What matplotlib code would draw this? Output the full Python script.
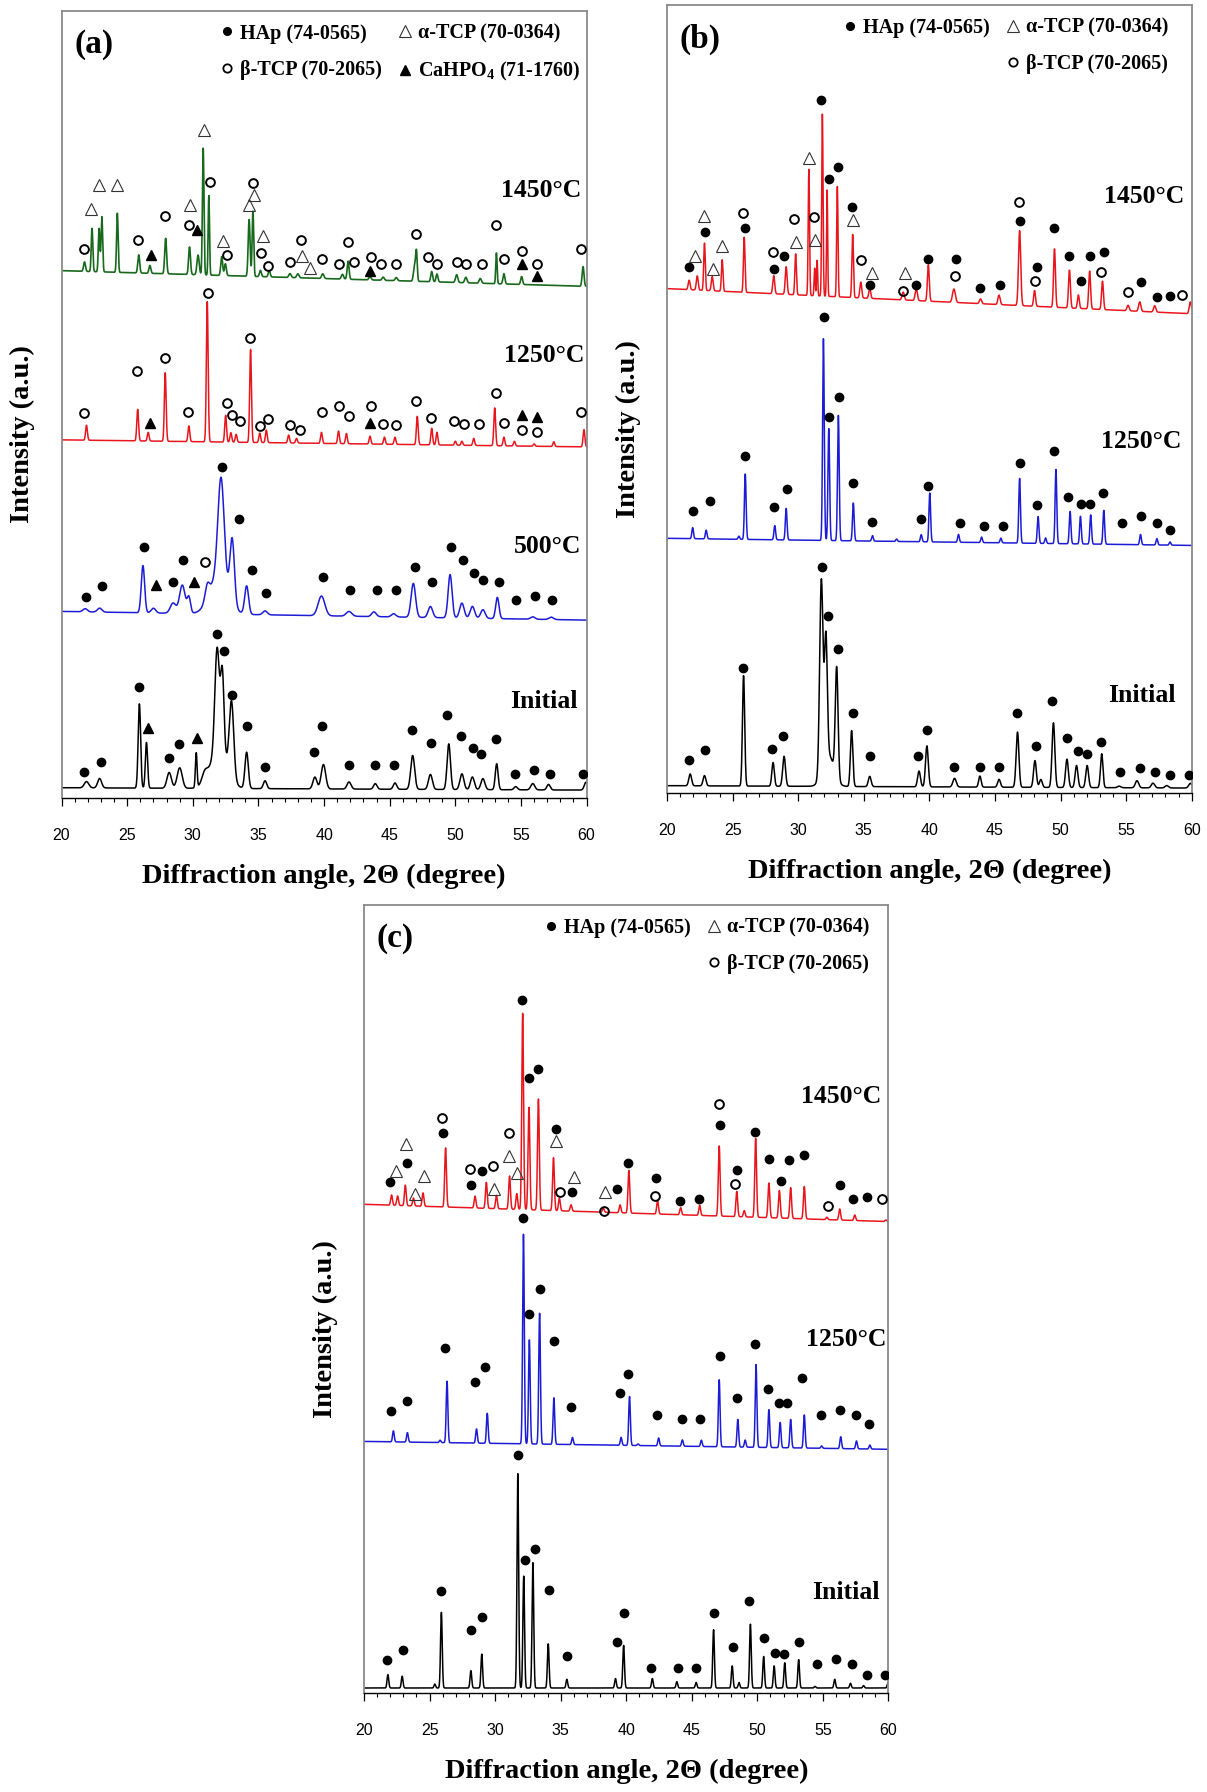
import numpy as np
import matplotlib.pyplot as plt
from matplotlib.lines import Line2D

plt.rcParams['font.family'] = ['Liberation Serif', 'DejaVu Serif']
plt.rcParams['mathtext.fontset'] = 'custom'
plt.rcParams['mathtext.rm'] = 'Liberation Serif:bold'
plt.rcParams['mathtext.bf'] = 'Liberation Serif:bold'

two_theta = np.arange(20.0, 60.0001, 0.01)

# ---------------- (a) ----------------
# each pattern: baseline at 20 and 60 deg, then peak position / height / FWHM
a_init_base = [1.3, 1.0]
a_init_pos = [21.9, 22.9, 25.93, 26.47, 28.2, 29.0, 30.26, 30.9, 31.85, 32.0, 32.25, 32.95, 34.1, 35.5, 39.3,
              39.95, 41.9, 43.9, 45.4, 46.75, 48.1, 49.5, 50.5, 51.3, 52.1, 53.15, 54.6, 55.9, 57.1, 59.95]
a_init_hgt = [0.8, 1.2, 10.7, 5.8, 2.0, 2.6, 4.4, 1.2, 13.0, 5.0, 10.0, 9.5, 4.6, 1.0, 1.5,
              3.1, 0.9, 0.7, 0.8, 4.3, 1.9, 5.8, 2.0, 1.6, 1.4, 3.3, 0.4, 0.8, 0.7, 1.0]
a_init_fwhm = [0.4, 0.35, 0.22, 0.2, 0.4, 0.45, 0.15, 0.5, 0.4, 1.5, 0.3, 0.4, 0.3, 0.3, 0.35,
               0.4, 0.35, 0.3, 0.3, 0.35, 0.35, 0.3, 0.35, 0.35, 0.35, 0.25, 0.3, 0.35, 0.3, 0.3]

a_500_base = [23.7, 22.6]
a_500_pos = [21.8, 22.9, 26.2, 27.0, 28.5, 29.2, 29.7, 31.1, 32.0, 32.15, 33.0, 34.1, 35.5, 39.8, 41.9,
             43.8, 45.3, 46.8, 48.1, 49.6, 50.5, 51.3, 52.1, 53.2, 55.9, 57.3]
a_500_hgt = [0.4, 0.5, 6.0, 0.6, 1.3, 3.6, 2.0, 1.8, 5.0, 12.5, 8.0, 3.6, 0.5, 2.5, 0.6,
             0.6, 0.4, 4.3, 1.4, 5.5, 1.9, 1.5, 1.1, 2.7, 0.3, 0.3]
a_500_fwhm = [0.4, 0.4, 0.3, 0.4, 0.5, 0.5, 0.3, 0.4, 1.6, 0.55, 0.4, 0.35, 0.4, 0.6, 0.5,
              0.4, 0.4, 0.4, 0.4, 0.35, 0.4, 0.4, 0.4, 0.3, 0.4, 0.4]

a_1250_base = [45.5, 44.6]
a_1250_pos = [21.9, 25.8, 26.6, 27.9, 29.7, 31.1, 32.5, 32.9, 33.3, 34.4, 35.1, 35.6, 37.3, 37.9, 39.8, 41.1,
              41.7, 43.5, 44.6, 45.4, 47.1, 48.2, 48.6, 50.0, 50.5, 51.4, 53.0, 53.7, 54.5, 56.0, 57.5, 59.8]
a_1250_hgt = [1.9, 4.0, 1.1, 8.7, 2.0, 17.8, 3.4, 1.2, 1.0, 11.8, 1.2, 1.6, 1.0, 0.6, 1.4, 1.6,
              1.3, 1.0, 0.9, 0.9, 3.6, 2.1, 1.6, 0.5, 0.5, 0.9, 4.8, 1.1, 0.6, 0.3, 0.6, 2.2]
a_1250_fwhm = 0.16

a_1450_base = [67.0, 65.0]
a_1450_pos = [21.75, 22.32, 22.86, 23.07, 24.25, 25.88, 26.73, 27.93, 29.75, 30.4, 30.79, 31.22, 32.2,
              32.48, 34.29, 34.58, 35.15, 35.82, 37.4, 38.0, 39.9, 41.4, 41.83, 43.5, 44.5, 45.5, 46.9,
              47.04, 48.2, 48.6, 50.1, 50.8, 51.9, 53.13, 53.7, 55.05, 59.73]
a_1450_hgt = [1.2, 5.5, 5.5, 7.0, 7.5, 2.3, 1.0, 4.5, 3.5, 2.5, 16.1, 10.1, 2.4,
              1.5, 7.2, 8.3, 0.8, 0.8, 0.5, 0.5, 0.6, 0.6, 2.3, 0.4, 0.4, 0.4, 2.0,
              3.5, 1.3, 1.0, 1.0, 0.7, 0.6, 3.9, 1.3, 1.0, 2.5]
a_1450_fwhm = [0.17, 0.14, 0.14, 0.14, 0.14, 0.17, 0.17, 0.17, 0.17, 0.2, 0.14, 0.12, 0.17,
               0.17, 0.17, 0.14, 0.17, 0.17, 0.2, 0.2, 0.2, 0.2, 0.17, 0.2, 0.2, 0.2, 0.2,
               0.14, 0.17, 0.17, 0.2, 0.2, 0.2, 0.12, 0.17, 0.17, 0.17]

a_hap_x = [21.71, 22.99, 25.93, 31.86, 32.40, 33.01, 34.16, 35.50, 28.15, 28.95, 39.21, 39.82, 41.88,
           43.91, 45.33, 46.69, 48.11, 49.33, 50.43, 51.31, 51.98, 53.10, 54.57, 55.99, 57.19, 59.73,
           21.84, 23.05, 26.28, 28.50, 29.27, 32.24, 33.49, 34.48, 35.60, 39.90, 42.01, 44.04, 45.49,
           46.90, 48.24, 49.66, 50.59, 51.45, 52.14, 53.34, 54.65, 56.09, 57.38]
a_hap_y = [3.3, 4.6, 14.1, 20.8, 18.7, 13.1, 9.1, 3.9, 5.1, 6.8, 5.8, 9.2, 4.2,
           4.2, 4.2, 8.7, 7.0, 10.6, 7.9, 6.4, 5.6, 7.5, 3.0, 3.5, 3.0, 3.0,
           25.5, 26.9, 31.9, 27.5, 30.3, 42.1, 35.4, 29.0, 26.1, 28.1, 26.4, 26.4, 26.4,
           29.4, 27.4, 31.9, 30.2, 28.6, 27.7, 27.4, 25.2, 25.7, 25.2]
a_alpha_x = [22.24, 22.89, 24.22, 29.78, 30.87, 32.29, 34.27, 34.67, 35.31, 38.30, 38.94]
a_alpha_y = [74.8, 77.9, 77.9, 75.3, 84.9, 70.8, 75.3, 76.6, 71.4, 68.9, 67.4]
a_beta_x = [21.74, 25.85, 27.88, 29.72, 31.30, 32.64, 34.61, 35.17, 35.74, 37.42, 38.25, 39.82, 41.16,
            41.83, 42.28, 43.59, 44.37, 45.49, 47.04, 47.92, 48.59, 50.14, 50.80, 52.03, 53.13, 53.69,
            55.05, 56.25, 59.59,
            21.71, 25.74, 27.85, 29.67, 31.19, 32.61, 33.01, 33.60, 34.37, 35.15, 35.74, 37.42, 38.14,
            39.82, 41.16, 41.91, 43.59, 44.50, 45.49, 47.04, 48.16, 49.92, 50.64, 51.82, 53.10, 53.69,
            55.05, 56.25, 59.59,
            30.95]
a_beta_y = [69.7, 70.9, 74.0, 72.8, 78.3, 69.0, 78.1, 69.2, 67.6, 68.1, 70.9, 68.5, 67.8,
            70.6, 68.1, 68.7, 67.9, 67.9, 71.6, 68.7, 67.8, 68.1, 67.8, 67.8, 72.8, 68.5,
            69.5, 67.9, 69.7,
            48.9, 54.3, 55.9, 49.0, 64.1, 50.2, 48.7, 47.9, 58.5, 47.3, 48.2, 47.4, 46.8,
            49.1, 49.8, 48.5, 49.8, 47.5, 47.4, 50.5, 48.3, 47.9, 47.5, 47.5, 51.4, 47.7,
            46.8, 46.5, 49.0,
            30.0]
a_caph_x = [26.55, 30.34, 27.19, 30.10, 26.73, 43.51, 55.05, 56.25, 26.79, 30.34, 43.48, 55.05, 56.25]
a_caph_y = [8.9, 7.6, 27.1, 27.5, 47.6, 47.6, 48.7, 48.4, 69.0, 72.2, 66.9, 67.9, 66.3]

# ---------------- (b) ----------------
b_init_base = [0.9, 0.6]
b_init_pos = [21.76, 22.85, 25.83, 28.08, 28.92, 31.76, 32.11, 32.3, 32.93, 34.07, 35.45, 39.21, 39.81, 41.92,
              43.85, 45.31, 46.72, 48.05, 48.5, 49.46, 50.49, 51.22, 52.03, 53.14, 54.47, 55.83, 57.05,
              58.1, 59.9]
b_init_hgt = [1.5, 1.3, 14.0, 3.0, 3.8, 24.5, 15.5, 4.0, 13.9, 7.1, 1.3, 2.0, 5.2, 1.1,
              1.4, 1.0, 7.0, 3.4, 1.0, 8.2, 3.6, 2.8, 2.8, 4.3, 0.2, 0.9, 0.6,
              0.3, 0.6]
b_init_fwhm = [0.25, 0.25, 0.2, 0.22, 0.25, 0.3, 0.25, 1.0, 0.25, 0.22, 0.25, 0.25, 0.25, 0.3,
               0.22, 0.25, 0.25, 0.25, 0.25, 0.25, 0.25, 0.25, 0.25, 0.22, 0.3, 0.3, 0.3,
               0.3, 0.3]

b_1250_base = [32.3, 31.4]
b_1250_pos = [21.95, 22.98, 25.47, 25.96, 28.21, 29.08, 31.92, 32.33, 33.06, 34.2, 35.66, 37.5, 39.38, 40.03,
              42.22, 43.98, 45.45, 46.88, 48.29, 48.86, 49.65, 50.73, 51.52, 52.3, 53.3, 56.1, 57.35, 58.35]
b_1250_hgt = [1.4, 1.1, 0.4, 8.3, 1.8, 4.0, 25.6, 14.2, 15.9, 4.8, 0.7, 0.3, 0.9, 6.2,
              1.0, 0.7, 0.6, 8.2, 3.4, 0.7, 9.4, 4.1, 3.5, 3.7, 4.3, 1.3, 0.8, 0.4]
b_1250_fwhm = 0.15

b_1450_base = [64.0, 60.8]
b_1450_pos = [21.68, 22.3, 22.85, 23.44, 24.2, 25.88, 28.13, 29.08, 29.8, 30.81, 31.25, 31.44, 31.84, 32.2,
              32.98, 34.15, 34.77, 35.45, 38.0, 39.0, 39.92, 41.87, 43.9, 45.31, 46.88, 48.02, 49.54,
              50.68, 51.36, 52.22, 53.2, 55.15, 56.04, 57.18, 59.9]
b_1450_hgt = [1.2, 1.8, 6.0, 1.8, 4.0, 7.0, 2.3, 3.5, 5.2, 16.0, 3.5, 4.5, 23.1, 13.5,
              14.0, 8.0, 2.0, 1.3, 1.0, 1.5, 4.6, 1.7, 0.6, 1.2, 9.5, 2.0, 7.4,
              4.8, 1.7, 4.8, 3.6, 0.7, 1.2, 0.8, 1.5]
b_1450_fwhm = [0.17, 0.17, 0.14, 0.17, 0.14, 0.14, 0.17, 0.17, 0.14, 0.12, 0.1, 0.1, 0.12, 0.1,
               0.12, 0.14, 0.17, 0.17, 0.2, 0.2, 0.17, 0.25, 0.2, 0.2, 0.2, 0.17, 0.17,
               0.17, 0.17, 0.17, 0.17, 0.2, 0.2, 0.2, 0.2]

b_hap_x = [21.68, 22.90, 25.80, 27.99, 28.81, 31.79, 32.25, 33.01, 34.15, 35.50, 39.13, 39.81, 41.87, 43.85,
           45.34, 46.67, 48.13, 49.35, 50.46, 51.36, 52.03, 53.12, 54.55, 56.04, 57.21, 58.32, 59.81,
           22.01, 23.25, 25.91, 28.13, 29.11, 32.00, 32.33, 33.14, 34.20, 35.66, 39.35, 39.92, 42.36,
           44.20, 45.61, 46.91, 48.24, 49.54, 50.54, 51.54, 52.22, 53.25, 54.66, 56.10, 57.34, 58.32,
           21.68, 22.87, 25.91, 28.13, 28.89, 31.76, 32.33, 33.01, 34.12, 35.50, 38.97, 39.92, 42.01,
           43.88, 45.37, 46.88, 48.24, 49.54, 50.68, 51.57, 52.22, 53.33, 56.10, 57.32, 58.32]
b_hap_y = [4.1, 5.4, 15.8, 5.5, 7.2, 28.6, 22.4, 18.2, 10.1, 4.7, 4.7, 8.0, 3.3, 3.3,
           3.3, 10.1, 5.9, 11.6, 6.9, 5.3, 4.9, 6.4, 2.6, 3.2, 2.6, 2.2, 2.2,
           35.8, 37.1, 42.7, 36.3, 38.6, 60.4, 47.7, 50.2, 39.3, 34.4, 34.7, 39.0, 34.3,
           33.9, 33.9, 41.9, 36.5, 43.4, 37.6, 36.7, 36.7, 38.1, 34.3, 35.1, 34.3, 33.3,
           66.7, 71.2, 71.7, 66.5, 68.2, 88.0, 77.9, 79.4, 74.3, 64.5, 64.5, 67.8, 67.8,
           64.1, 64.5, 72.6, 66.7, 71.7, 68.2, 65.0, 68.1, 68.6, 64.9, 62.9, 63.0]
b_alpha_x = [22.14, 22.85, 23.50, 24.17, 29.81, 30.81, 31.25, 34.15, 35.61, 38.16]
b_alpha_y = [68.1, 73.2, 66.5, 69.4, 69.9, 80.6, 70.2, 72.7, 66.0, 66.0]
b_beta_x = [25.80, 28.05, 29.70, 31.22, 34.82, 38.02, 41.95, 46.80, 48.02, 53.12, 55.15, 59.24]
b_beta_y = [73.6, 68.6, 72.8, 73.1, 67.6, 63.7, 65.6, 75.0, 65.0, 66.1, 63.6, 63.2]

# ---------------- (c) ----------------
c_init_base = [0.6, 0.6]
c_init_pos = [21.82, 22.91, 25.4, 25.90, 28.15, 28.98, 31.73, 32.18, 32.88, 34.05, 35.47, 39.18, 39.80, 41.99,
              43.86, 45.33, 46.66, 48.08, 48.6, 49.47, 50.48, 51.28, 52.09, 53.15, 54.4, 55.9, 57.1,
              58.1, 59.97]
c_init_hgt = [1.7, 1.5, 0.5, 9.6, 2.2, 4.3, 27.2, 14.2, 15.9, 5.6, 1.1, 1.2, 5.4, 1.2,
              0.8, 0.7, 7.4, 2.8, 0.7, 8.1, 4.0, 2.8, 3.2, 3.6, 0.2, 1.1, 0.6,
              0.3, 0.7]
c_init_fwhm = 0.15

c_1250_base = [31.9, 30.9]
c_1250_pos = [22.24, 23.31, 25.8, 26.33, 28.58, 29.40, 32.16, 32.61, 33.39, 34.48, 35.9, 39.61, 40.25, 40.9,
              42.47, 44.28, 45.73, 47.09, 48.51, 49.07, 49.9, 50.88, 51.74, 52.54, 53.58, 54.9, 56.36,
              57.56, 58.58]
c_1250_hgt = [1.4, 1.2, 0.3, 7.8, 1.8, 3.8, 26.6, 13.2, 16.6, 5.9, 0.9, 1.0, 6.2, 0.2,
              1.0, 0.8, 0.8, 8.5, 3.5, 0.9, 10.5, 4.8, 3.2, 3.6, 4.2, 0.3, 1.5,
              1.0, 0.5]
c_1250_fwhm = 0.15

c_1450_base = [62.0, 59.8]
c_1450_pos = [22.1, 22.56, 23.15, 23.77, 24.5, 26.22, 28.47, 29.33, 30.1, 31.1, 31.65, 32.1, 32.58, 33.3,
              34.45, 34.9, 35.79, 38.25, 39.53, 40.20, 42.39, 44.15, 45.6, 47.09, 48.43, 49.0, 49.87,
              50.88, 51.68, 52.54, 53.58, 55.3, 56.28, 57.43, 59.8]
c_1450_hgt = [1.3, 1.2, 2.6, 1.0, 1.7, 7.5, 1.5, 3.3, 1.7, 4.2, 2.0, 24.9, 13.0, 14.1,
              6.7, 1.6, 0.8, 0.5, 1.0, 5.4, 1.7, 0.9, 1.3, 8.9, 3.2, 0.8, 10.0,
              4.4, 3.5, 3.9, 4.1, 0.3, 1.4, 0.7, 0.2]
c_1450_fwhm = 0.16

c_hap_x = [21.76, 22.97, 25.85, 28.18, 28.98, 31.73, 32.29, 33.06, 34.13, 35.50, 39.29, 39.82, 41.91, 43.94,
           45.35, 46.72, 48.13, 49.33, 50.48, 51.31, 52.01, 53.15, 54.54, 56.01, 57.24, 58.34, 59.75,
           22.08, 23.31, 26.17, 28.47, 29.24, 32.10, 32.58, 33.39, 34.48, 35.79, 39.53, 40.12, 42.33,
           44.26, 45.65, 47.12, 48.43, 49.79, 50.78, 51.63, 52.27, 53.42, 54.89, 56.31, 57.51, 58.53,
           21.98, 23.29, 26.06, 28.18, 28.98, 32.05, 32.58, 33.28, 34.61, 35.90, 39.26, 40.12, 42.25,
           44.07, 45.57, 47.12, 48.43, 49.79, 50.88, 51.77, 52.43, 53.56, 56.31, 57.32, 58.34]
c_hap_y = [4.1, 5.4, 12.9, 7.9, 9.6, 30.2, 16.9, 18.2, 13.0, 4.7, 6.4, 10.1, 3.2, 3.2,
           3.2, 10.1, 5.8, 11.6, 6.9, 5.1, 4.9, 6.4, 3.6, 4.3, 3.6, 2.2, 2.2,
           35.7, 37.0, 43.8, 39.5, 41.3, 60.3, 48.1, 51.3, 44.6, 36.3, 38.1, 40.5, 35.2,
           34.8, 34.8, 42.8, 37.4, 44.3, 38.5, 36.8, 36.8, 40.0, 35.2, 35.9, 35.2, 34.1,
           64.8, 67.3, 71.1, 64.5, 66.2, 87.9, 78.0, 79.2, 71.6, 63.5, 64.0, 67.3, 65.4,
           62.4, 62.7, 72.1, 66.3, 71.2, 67.8, 65.0, 67.6, 68.2, 64.5, 62.7, 62.9]
c_alpha_x = [22.43, 23.21, 23.85, 24.57, 29.94, 31.09, 31.65, 34.64, 35.98, 38.41]
c_alpha_y = [66.2, 69.6, 63.3, 65.6, 64.0, 68.1, 66.0, 70.1, 65.5, 63.5]
c_beta_x = [25.96, 28.10, 29.86, 31.09, 34.93, 38.30, 42.17, 47.04, 48.27, 55.35, 59.49]
c_beta_y = [72.9, 66.5, 66.9, 71.1, 63.5, 61.1, 63.1, 74.7, 64.6, 61.8, 62.7]

BLACK, BLUE, RED, GREEN = '#000000', '#1c1cd6', '#e8161c', '#17691c'
SERIF_BOLD = dict(family='Liberation Serif', weight='bold')

hap_style = dict(ls='none', marker='o', ms=6, mfc='k', mec='k', zorder=4)
alpha_style = dict(ls='none', marker='^', ms=8.5, mfc='none', mec='#333333', mew=0.8, zorder=4)
beta_style = dict(ls='none', marker='o', ms=6.3, mfc='none', mec='k', mew=1.4, zorder=4)
caph_style = dict(ls='none', marker='^', ms=7.8, mfc='k', mec='k', zorder=4)


def pattern(base, pos, hgt, fwhm):
    y = np.interp(two_theta, [20, 60], base)
    widths = np.broadcast_to(np.asarray(fwhm, dtype=float), np.shape(pos))
    for p, h, w in zip(pos, hgt, widths, strict=True):
        y = y + h * np.exp(-4 * np.log(2) * ((two_theta - p) / w) ** 2)
    return y


def setup_axes(ax, letter, letter_y):
    ax.set_xlim(20, 60)
    ax.set_ylim(0, 100)
    ax.set_yticks([])
    ax.set_xticks(np.arange(20, 61, 5))
    ax.set_xticks(np.arange(20, 61, 1), minor=True)
    ax.tick_params(axis='x', which='major', direction='out', length=5.8, width=0.9,
                   pad=16, labelsize=11.5, labelfontfamily='Liberation Sans')
    ax.tick_params(axis='x', which='minor', direction='out', length=3, width=0.8)
    for side in ('top', 'left', 'right'):
        ax.spines[side].set_color('#8a8a8a')
        ax.spines[side].set_linewidth(1.3)
    ax.spines['bottom'].set_linewidth(1.0)
    ax.set_xlabel('Diffraction angle, 2Θ (degree)', fontsize=20.5, **SERIF_BOLD)
    ax.xaxis.set_label_coords(0.5, -0.1)
    ax.xaxis.label.set_va('center')
    ax.set_ylabel('Intensity (a.u.)', fontsize=20.5, **SERIF_BOLD)
    ax.yaxis.set_label_coords(-0.074, 0.462)
    ax.yaxis.label.set_va('center')
    ax.text(20.95, letter_y, letter, ha='left', va='center', fontsize=24, **SERIF_BOLD)


def add_legend(ax, x0, with_caph):
    hap = Line2D([], [], ls='none', marker='o', ms=5.5, mfc='k', mec='k')
    alpha = Line2D([], [], ls='none', marker='^', ms=8, mfc='none', mec='#333333', mew=0.8)
    beta = Line2D([], [], ls='none', marker='o', ms=6, mfc='none', mec='k', mew=1.3)
    if with_caph:
        caph = Line2D([], [], ls='none', marker='^', ms=7.5, mfc='k', mec='k')
        handles = [hap, beta, alpha, caph]
        labels = ['HAp (74-0565)', 'β-TCP (70-2065)', 'α-TCP (70-0364)', r'CaHPO$_4$ (71-1760)']
    else:
        blank = Line2D([], [], ls='none')
        handles = [hap, blank, alpha, beta]
        labels = ['HAp (74-0565)', '', 'α-TCP (70-0364)', 'β-TCP (70-2065)']
    ax.legend(handles, labels, ncol=2, loc='upper left', bbox_to_anchor=(x0, 0.984),
              frameon=False, handlelength=0.8, handletextpad=0.25, columnspacing=0.75,
              labelspacing=0.82, borderpad=0, borderaxespad=0,
              prop=dict(family='Liberation Serif', weight='bold', size=14.5))


def temp_label(ax, x, y, text):
    ax.text(x, y, text, ha='right', va='center', fontsize=18.5, **SERIF_BOLD)


fig = plt.figure(figsize=(12.07, 17.92), dpi=100)
ax_a = fig.add_axes([0.0510, 0.5547, 0.4350, 0.4392])
ax_b = fig.add_axes([0.5527, 0.5576, 0.4346, 0.4396])
ax_c = fig.add_axes([0.3016, 0.0554, 0.4345, 0.4396])

# (a) as-received powder, 500, 1250 and 1450 C
ax_a.plot(two_theta, pattern(a_init_base, a_init_pos, a_init_hgt, a_init_fwhm), color=BLACK, lw=1.1)
ax_a.plot(two_theta, pattern(a_500_base, a_500_pos, a_500_hgt, a_500_fwhm), color=BLUE, lw=1.1)
ax_a.plot(two_theta, pattern(a_1250_base, a_1250_pos, a_1250_hgt, a_1250_fwhm), color=RED, lw=1.1)
ax_a.plot(two_theta, pattern(a_1450_base, a_1450_pos, a_1450_hgt, a_1450_fwhm), color=GREEN, lw=1.2)
ax_a.plot(a_hap_x, a_hap_y, **hap_style)
ax_a.plot(a_alpha_x, a_alpha_y, **alpha_style)
ax_a.plot(a_beta_x, a_beta_y, **beta_style)
ax_a.plot(a_caph_x, a_caph_y, **caph_style)
setup_axes(ax_a, '(a)', 95.7)
add_legend(ax_a, 0.300, True)
temp_label(ax_a, 59.6, 77.2, '1450°C')
temp_label(ax_a, 59.85, 56.2, '1250°C')
temp_label(ax_a, 59.6, 31.9, '500°C')
temp_label(ax_a, 59.35, 12.2, 'Initial')

# (b)
ax_b.plot(two_theta, pattern(b_init_base, b_init_pos, b_init_hgt, b_init_fwhm), color=BLACK, lw=1.1)
ax_b.plot(two_theta, pattern(b_1250_base, b_1250_pos, b_1250_hgt, b_1250_fwhm), color=BLUE, lw=1.1)
ax_b.plot(two_theta, pattern(b_1450_base, b_1450_pos, b_1450_hgt, b_1450_fwhm), color=RED, lw=1.1)
ax_b.plot(b_hap_x, b_hap_y, **hap_style)
ax_b.plot(b_alpha_x, b_alpha_y, **alpha_style)
ax_b.plot(b_beta_x, b_beta_y, **beta_style)
setup_axes(ax_b, '(b)', 95.6)
add_legend(ax_b, 0.333, False)
temp_label(ax_b, 59.4, 75.7, '1450°C')
temp_label(ax_b, 59.2, 44.6, '1250°C')
temp_label(ax_b, 58.8, 12.3, 'Initial')

# (c)
ax_c.plot(two_theta, pattern(c_init_base, c_init_pos, c_init_hgt, c_init_fwhm), color=BLACK, lw=1.1)
ax_c.plot(two_theta, pattern(c_1250_base, c_1250_pos, c_1250_hgt, c_1250_fwhm), color=BLUE, lw=1.1)
ax_c.plot(two_theta, pattern(c_1450_base, c_1450_pos, c_1450_hgt, c_1450_fwhm), color=RED, lw=1.1)
ax_c.plot(c_hap_x, c_hap_y, **hap_style)
ax_c.plot(c_alpha_x, c_alpha_y, **alpha_style)
ax_c.plot(c_beta_x, c_beta_y, **beta_style)
setup_axes(ax_c, '(c)', 95.8)
add_legend(ax_c, 0.341, False)
temp_label(ax_c, 59.45, 75.7, '1450°C')
temp_label(ax_c, 59.85, 44.9, '1250°C')
temp_label(ax_c, 59.35, 12.7, 'Initial')

fig.savefig('out.png', dpi=100)
